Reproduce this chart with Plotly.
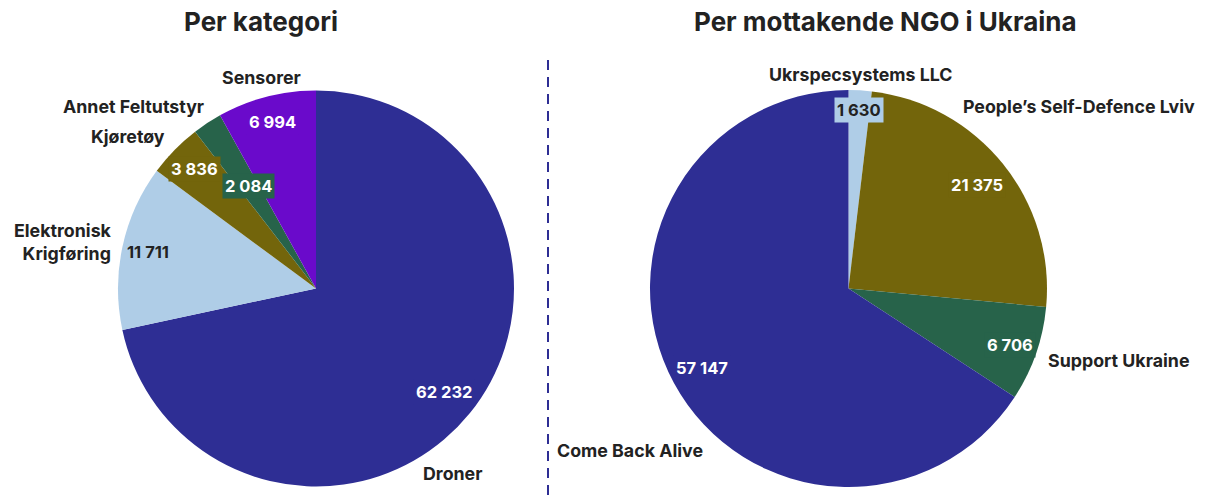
import math
import plotly.graph_objects as go

# ---- data ----
cat_labels = ["Droner", "Elektronisk Krigføring", "Kjøretøy", "Annet Feltutstyr", "Sensorer"]
cat_values = [62232, 11711, 3836, 2084, 6994]
ngo_labels = ["Ukrspecsystems LLC", "People’s Self-Defence Lviv", "Support Ukraine", "Come Back Alive"]
ngo_values = [1630, 21375, 6706, 57147]
titles = ["Per kategori", "Per mottakende NGO i Ukraina"]

# ---- style ----
NAVY = "#2E2E94"
LBLUE = "#AFCDE7"
OLIVE = "#73650B"
GREEN = "#27634A"
PURPLE = "#6A0ACB"
DARK = "#222222"
cat_colors = [NAVY, LBLUE, OLIVE, GREEN, PURPLE]
ngo_colors = [LBLUE, OLIVE, GREEN, NAVY]
cat_text_colors = ["white", DARK, "white", "white", "white"]
ngo_text_colors = [DARK, "white", "white", "white"]
# value-label radius (fraction of pie radius)
cat_value_r = [0.83, 0.87, 0.86, 0.62, 0.87]
ngo_value_r = [0.90, 0.83, 0.86, 0.84]
# name-label placement: radius factor and angle offset (deg) relative to slice middle
cat_name_r = [1.16, 1.30, 1.22, 1.30, 1.10]
cat_name_da = [14.5, -1.7, -5.5, -11.7, 0.0]
ngo_name_r = [1.08, 1.48, 1.41, 1.37]
ngo_name_da = [0.0, 0.6, -4.3, -8.1]

W, H = 1211, 495
FONT = "Inter, 'Noto Sans', sans-serif"

left_dom = dict(x=[118 / W, 514 / W], y=[8 / H, 405 / H])
right_dom = dict(x=[650 / W, 1047 / W], y=[8 / H, 405 / H])


def display(lbl):
    return lbl.replace("Elektronisk ", "Elektronisk<br>")


def fmt(v):
    return f"{v:,}".replace(",", " ")


fig = go.Figure()
for labels, values, colors, dom in [
    (cat_labels, cat_values, cat_colors, left_dom),
    (ngo_labels, ngo_values, ngo_colors, right_dom),
]:
    fig.add_trace(go.Pie(
        labels=labels, values=values, sort=False, direction="clockwise", rotation=0,
        marker=dict(colors=colors, line=dict(width=0)),
        textinfo="none", showlegend=False, domain=dom, hoverinfo="label+value",
    ))

annotations = []
for labels, values, colors, tcols, vrads, nrads, nda, dom in [
    (cat_labels, cat_values, cat_colors, cat_text_colors, cat_value_r, cat_name_r, cat_name_da, left_dom),
    (ngo_labels, ngo_values, ngo_colors, ngo_text_colors, ngo_value_r, ngo_name_r, ngo_name_da, right_dom),
]:
    x0, x1 = dom["x"][0] * W, dom["x"][1] * W
    y0, y1 = dom["y"][0] * H, dom["y"][1] * H
    cx, cy = (x0 + x1) / 2, (y0 + y1) / 2
    R = min(x1 - x0, y1 - y0) / 2
    total = sum(values)
    cum = 0
    for lbl, v, c, tc, rf, nr, da in zip(labels, values, colors, tcols, vrads, nrads, nda):
        mid = (cum + v / 2) / total * 2 * math.pi
        cum += v
        px = cx + rf * R * math.sin(mid)
        py = cy + rf * R * math.cos(mid)
        annotations.append(dict(
            x=px / W, y=py / H, xref="paper", yref="paper", text=fmt(v),
            xanchor="center", yanchor="middle",
            showarrow=False, bgcolor=c, borderpad=2,
            font=dict(family=FONT, size=16.5, color=tc, weight=700),
        ))
        na = mid + math.radians(da)
        nx = cx + nr * R * math.sin(na)
        ny = cy + nr * R * math.cos(na)
        annotations.append(dict(
            x=nx / W, y=ny / H, xref="paper", yref="paper", text=display(lbl),
            xanchor="center", yanchor="middle", align="right",
            showarrow=False,
            font=dict(family=FONT, size=17.8, color=DARK, weight=700),
        ))

for t, tx in zip(titles, [261, 886]):
    annotations.append(dict(x=tx / W, y=1 - 22 / H, xref="paper", yref="paper", text=t,
                            xanchor="center", yanchor="middle", showarrow=False,
                            font=dict(family=FONT, size=26, color=DARK, weight=700)))

fig.update_layout(
    width=W, height=H, margin=dict(l=0, r=0, t=0, b=0),
    paper_bgcolor="white", plot_bgcolor="white",
    annotations=annotations,
    shapes=[dict(type="line", xref="paper", yref="paper", x0=548 / W, x1=548 / W,
                 y0=0, y1=1 - 55 / H, line=dict(color=NAVY, width=2, dash="10px,7px"))],
)
fig.write_html("out.html", config={"displayModeBar": False},
               post_script="document.body.style.margin='0px';")
